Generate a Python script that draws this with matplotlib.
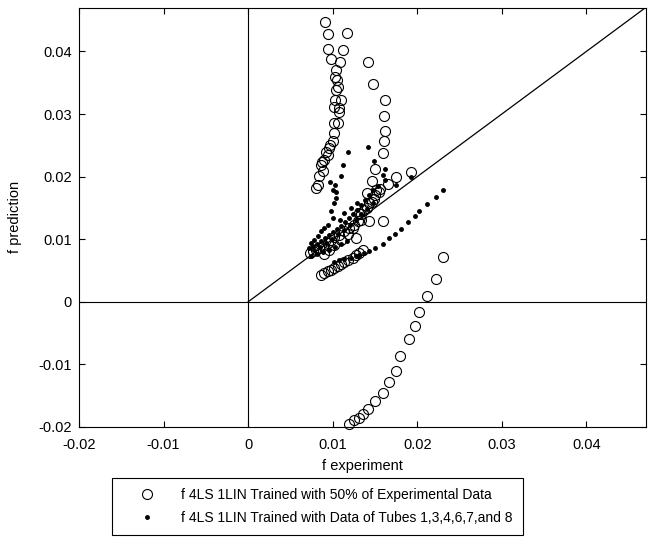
import matplotlib
matplotlib.use('Agg')
import matplotlib.pyplot as plt
import numpy as np

plt.rcParams['font.family'] = ['Liberation Sans', 'DejaVu Sans']

## Model trained with 50% of the experimental data (open circles)
circ_exp = [0.00910, 0.00941, 0.01174, 0.00949, 0.01127, 0.00981, 0.01091, 0.01040,
            0.01032, 0.01047, 0.01068, 0.01040, 0.01032, 0.01100, 0.01020, 0.01079,
            0.01079, 0.01020, 0.01059, 0.01020, 0.01000, 0.00973, 0.00961, 0.00925,
            0.00941, 0.00877, 0.00902, 0.00863, 0.00882, 0.00842, 0.00822, 0.00803,
            # right branch
            0.01423, 0.01480, 0.01622, 0.01610, 0.01619, 0.01610, 0.01592, 0.01500,
            0.01927, 0.01751, 0.01470, 0.01652, 0.01514, 0.01411, 0.01553, 0.01486,
            0.01435, 0.01376, 0.01336, 0.01592, 0.01435, 0.01296, 0.01316, 0.01277,
            # band along the diagonal
            0.00736, 0.00763, 0.00803, 0.00842, 0.00882, 0.00941, 0.00981, 0.01020,
            0.01079, 0.01139, 0.01198, 0.01257,
            0.01340, 0.01400, 0.01460, 0.01500, 0.01560, 0.01240, 0.01180, 0.01100,
            0.01020, 0.00960, 0.00900,
            # lower row
            0.00863, 0.00902, 0.00941, 0.00981, 0.01020, 0.01059, 0.01100, 0.01139,
            0.01178, 0.01237, 0.01277, 0.01316, 0.01355,
            # tail going negative
            0.02303, 0.02217, 0.02114, 0.02019, 0.01976, 0.01897, 0.01799, 0.01743,
            0.01660, 0.01592, 0.01502, 0.01423, 0.01355, 0.01308, 0.01249, 0.01190]
circ_pred = [0.04475, 0.04279, 0.04290, 0.04035, 0.04024, 0.03876, 0.03828, 0.03705,
             0.03598, 0.03545, 0.03429, 0.03386, 0.03226, 0.03226, 0.03120, 0.03099,
             0.03040, 0.02864, 0.02855, 0.02695, 0.02561, 0.02509, 0.02456, 0.02397,
             0.02349, 0.02238, 0.02270, 0.02190, 0.02083, 0.02003, 0.01871, 0.01818,
             0.03825, 0.03482, 0.03219, 0.02967, 0.02735, 0.02569, 0.02373, 0.02126,
             0.02078, 0.01998, 0.01930, 0.01882, 0.01780, 0.01738, 0.01748, 0.01643,
             0.01579, 0.01461, 0.01313, 0.01297, 0.01285, 0.01285, 0.01419, 0.01021,
             0.00781, 0.00807, 0.00834, 0.00861, 0.00887, 0.00941, 0.00994, 0.01037,
             0.01073, 0.01126, 0.01180, 0.01233,
             0.01400, 0.01500, 0.01600, 0.01700, 0.01800, 0.01180, 0.01080, 0.00980,
             0.00900, 0.00820, 0.00760,
             0.00430, 0.00460, 0.00490, 0.00515, 0.00540, 0.00565, 0.00600, 0.00635,
             0.00665, 0.00700, 0.00740, 0.00781, 0.00834,
             0.00718, 0.00367, 0.00089, -0.00166, -0.00389, -0.00601, -0.00868, -0.01107,
             -0.01276, -0.01451, -0.01585, -0.01707, -0.01797, -0.01850, -0.01888, -0.01957]

## Model trained with tubes 1,3,4,6,7 and 8 (dots)
dot_exp = [0.01178, 0.01423, 0.01121, 0.01485, 0.01097, 0.01624, 0.01592, 0.01613,
           0.01751, 0.01929, 0.01028, 0.00973, 0.01000, 0.01040, 0.01040, 0.01020,
           0.00981, 0.01000, 0.01091, 0.00941, 0.00902, 0.00863, 0.00822, 0.00783,
           0.00748,
           # dense band just above y = x
           0.00724, 0.00771, 0.00819, 0.00866, 0.00913, 0.00961, 0.01008, 0.01056,
           0.01103, 0.01150, 0.01198, 0.01245, 0.01293, 0.01340, 0.01387, 0.01435,
           0.01482, 0.01530, 0.01293, 0.01222, 0.01139,
           0.00780, 0.00850, 0.00920, 0.00990, 0.01060, 0.01130, 0.01200, 0.01270,
           0.01340, 0.01410, 0.01480,
           0.00748, 0.00819, 0.00890, 0.00961, 0.01032, 0.01103, 0.01174,
           # lower curve
           0.01020, 0.01079, 0.01139, 0.01218, 0.01277, 0.01316, 0.01376, 0.01435,
           0.01502, 0.01592, 0.01660, 0.01739, 0.01802, 0.01889, 0.01968, 0.02019,
           0.02114, 0.02225, 0.02303]
dot_pred = [0.02392, 0.02472, 0.02190, 0.02246, 0.02014, 0.02126, 0.02030, 0.01951,
            0.01871, 0.01987, 0.01871, 0.01919, 0.01791, 0.01748, 0.01659, 0.01579,
            0.01445, 0.01340, 0.01313, 0.01233, 0.01180, 0.01126, 0.01046, 0.00994,
            0.00946,
            0.00866, 0.00898, 0.00930, 0.00978, 0.01026, 0.01073, 0.01121, 0.01169,
            0.01217, 0.01281, 0.01344, 0.01408, 0.01472, 0.01552, 0.01632, 0.01711,
            0.01791, 0.01855, 0.01584, 0.01504, 0.01424,
            0.00820, 0.00880, 0.00940, 0.01010, 0.01080, 0.01150, 0.01230, 0.01310,
            0.01400, 0.01490, 0.01580,
            0.00738, 0.00770, 0.00802, 0.00834, 0.00882, 0.00930, 0.00978,
            0.00643, 0.00675, 0.00691, 0.00702, 0.00727, 0.00754, 0.00781, 0.00807,
            0.00861, 0.00930, 0.01021, 0.01085, 0.01164, 0.01276, 0.01365, 0.01445,
            0.01563, 0.01668, 0.01791]

ticks = [-0.02, -0.01, 0, 0.01, 0.02, 0.03, 0.04]
tick_labels = ['-0.02', '-0.01', '0', '0.01', '0.02', '0.03', '0.04']
lim = (-0.02, 0.047)

fig = plt.figure(figsize=(6.48, 5.37), dpi=100)
ax = fig.add_axes([79 / 648, 110 / 537, 566.6 / 648, 419.4 / 537])

## reference lines: axes through the origin and the y = x line
ax.axhline(0, color='k', lw=0.8)
ax.axvline(0, color='k', lw=0.8)
ax.plot([0, lim[1]], [0, lim[1]], color='k', lw=0.9)

ax.plot(circ_exp, circ_pred, 'o', mfc='none', mec='k', ms=7.2, mew=0.8,
        clip_on=False, label='f 4LS 1LIN Trained with 50% of Experimental Data')
ax.plot(dot_exp, dot_pred, '.', color='k', ms=5, clip_on=False,
        label='f 4LS 1LIN Trained with Data of Tubes 1,3,4,6,7,and 8')

ax.set_xlim(lim)
ax.set_ylim(lim)
ax.set_xticks(ticks)
ax.set_xticklabels(tick_labels)
ax.set_yticks(ticks)
ax.set_yticklabels(tick_labels)
ax.tick_params(direction='in', top=True, right=True, length=4, width=0.8,
               labelsize=10.5)
ax.tick_params(axis='x', pad=8)
ax.tick_params(axis='y', pad=5)
for s in ax.spines.values():
    s.set_linewidth(0.8)

ax.set_xlabel('f experiment', fontsize=10.5, labelpad=5)
ax.set_ylabel('f prediction', fontsize=10.5, labelpad=12)

leg = fig.legend(loc='center', bbox_to_anchor=(0.490, 0.0568), fontsize=10,
                 frameon=True, fancybox=False, edgecolor='k', framealpha=1,
                 handletextpad=0.65, borderpad=0.72, labelspacing=0.65,
                 handlelength=3.6)
leg.get_frame().set_linewidth(0.8)

fig.savefig('out.png', dpi=100)
